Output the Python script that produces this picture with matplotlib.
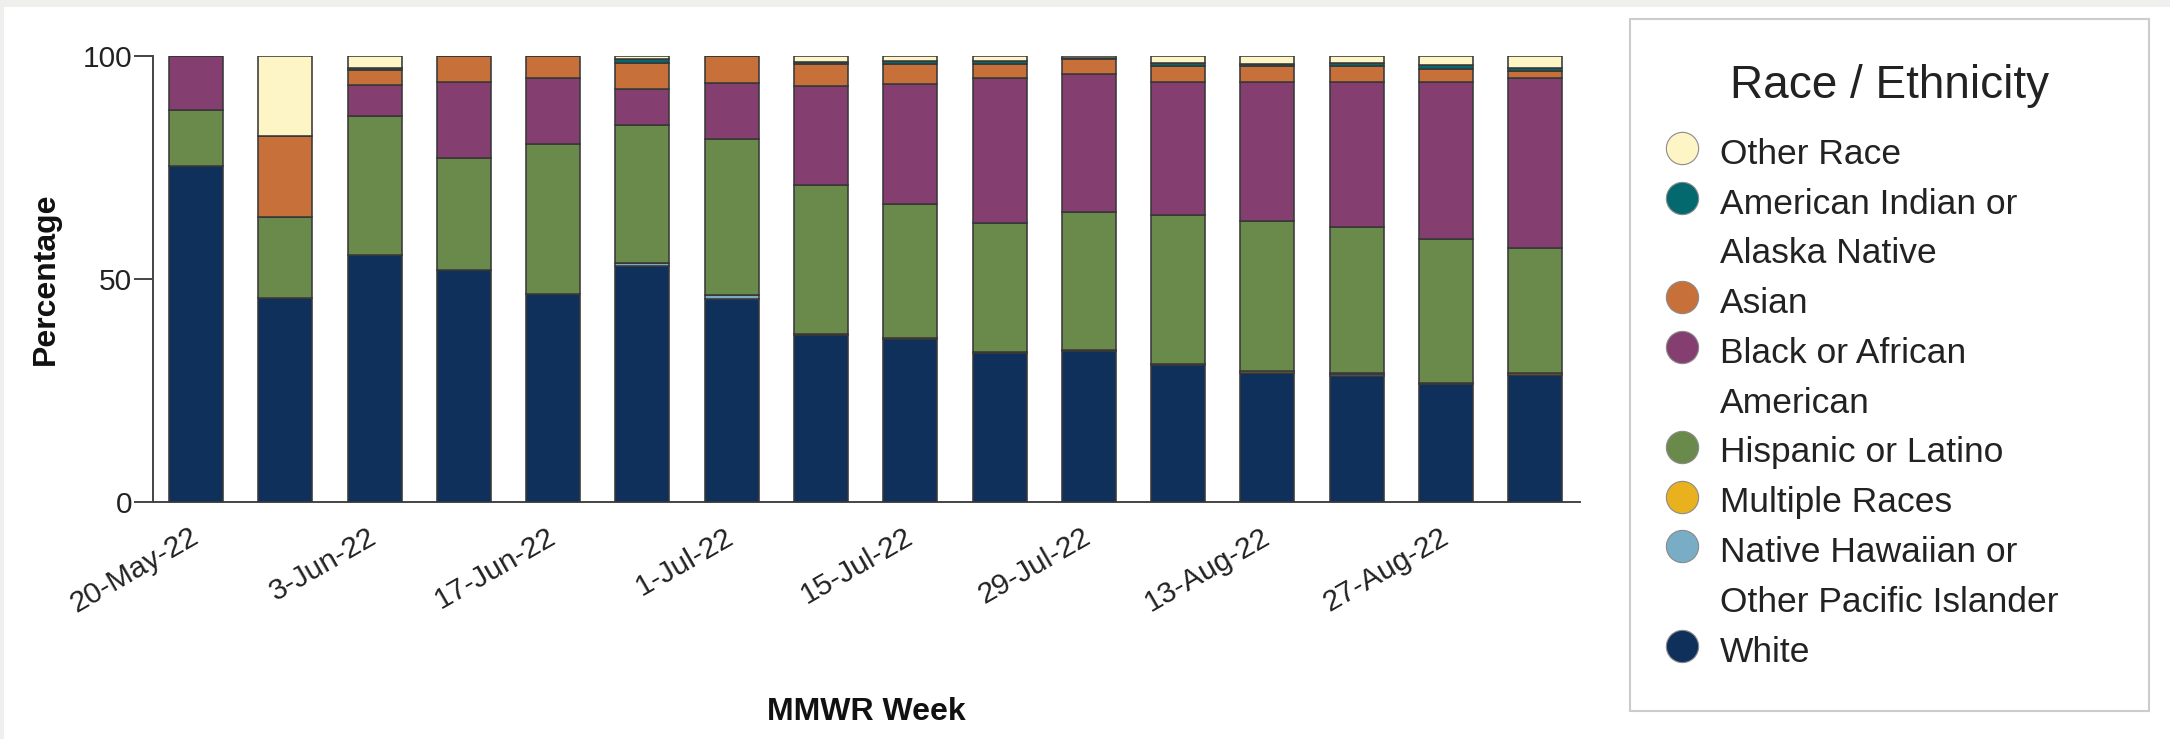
import matplotlib
matplotlib.use("Agg")
import matplotlib.pyplot as plt
from matplotlib.patches import Rectangle
import matplotlib.transforms as mtrans
import numpy as np

plt.rcParams['font.family'] = ['Liberation Sans', 'DejaVu Sans']

# ---- data ----
weeks = ['20-May-22', '27-May-22', '3-Jun-22', '10-Jun-22', '17-Jun-22', '24-Jun-22',
         '1-Jul-22', '8-Jul-22', '15-Jul-22', '22-Jul-22', '29-Jul-22', '5-Aug-22',
         '13-Aug-22', '20-Aug-22', '27-Aug-22', '3-Sep-22']
tick_labels = ['20-May-22', '3-Jun-22', '17-Jun-22', '1-Jul-22', '15-Jul-22',
               '29-Jul-22', '13-Aug-22', '27-Aug-22']

white    = [75.2, 45.6, 55.3, 52.0, 46.5, 52.9, 45.5, 37.4, 36.4, 33.3, 33.7, 30.6, 28.9, 28.1, 26.4, 28.4]
nhopi    = [0, 0, 0, 0, 0, 0.6, 0.8, 0, 0, 0, 0, 0, 0, 0.5, 0, 0]
multiple = [0, 0, 0, 0, 0, 0, 0, 0.3, 0.3, 0.2, 0.3, 0.3, 0.3, 0.3, 0.3, 0.5]
hispanic = [12.6, 18.2, 31.1, 25.1, 33.8, 30.9, 35.1, 33.35, 30.1, 28.9, 31.0, 33.4, 33.7, 32.8, 32.1, 27.9]
black    = [12.2, 0, 7.1, 17.1, 14.7, 8.2, 12.4, 22.25, 26.9, 32.5, 30.9, 29.9, 31.3, 32.5, 35.2, 38.3]
asian    = [0, 18.2, 3.35, 5.8, 5.0, 5.8, 6.2, 4.8, 4.5, 3.2, 3.3, 3.5, 3.4, 3.4, 3.1, 1.5]
aian     = [0, 0, 0.35, 0, 0, 0.8, 0, 0.5, 0.5, 0.6, 0.3, 0.6, 0.6, 0.7, 0.8, 0.6]
other    = [0, 18.0, 2.8, 0, 0, 0.7, 0, 1.4, 1.3, 1.3, 0.5, 1.7, 1.8, 1.7, 2.1, 2.8]

# stacking order bottom -> top
series = [
    ('White', white, '#10305c'),
    ('Native Hawaiian or\nOther Pacific Islander', nhopi, '#79adc6'),
    ('Multiple Races', multiple, '#e9b11e'),
    ('Hispanic or Latino', hispanic, '#6a8a4b'),
    ('Black or African\nAmerican', black, '#843f70'),
    ('Asian', asian, '#c8703a'),
    ('American Indian or\nAlaska Native', aian, '#03696e'),
    ('Other Race', other, '#fdf5c6'),
]

W, H, DPI = 2170, 739, 100
fig = plt.figure(figsize=(W / DPI, H / DPI), dpi=DPI, facecolor='white')

# background / frame layer in pixel coordinates
bg = fig.add_axes([0, 0, 1, 1], zorder=0)
bg.set_xlim(0, W)
bg.set_ylim(H, 0)
bg.axis('off')
bg.add_patch(Rectangle((0, 0), W, 7, facecolor='#efefed', edgecolor='none'))
bg.add_patch(Rectangle((0, 0), 4, H, facecolor='#efefed', edgecolor='none'))

# ---- main axes ----
ax_l, ax_r = 152.5, 1580
ax_t, ax_b = 55.7, 501.7
ax = fig.add_axes([ax_l / W, 1 - ax_b / H, (ax_r - ax_l) / W, (ax_b - ax_t) / H], zorder=2)
ax.patch.set_alpha(0)

x = np.arange(len(weeks))
bottom = np.zeros(len(weeks))
for name, vals, col in series:
    v = np.array(vals, dtype=float)
    ax.bar(x, v, bottom=bottom, width=0.605, color=col, edgecolor='#383838',
           linewidth=1.15, zorder=3)
    bottom += v

ax.set_xlim(-0.487, 15.5)
ax.set_ylim(0, 100)
for s in ['top', 'right']:
    ax.spines[s].set_visible(False)
for s in ['left', 'bottom']:
    ax.spines[s].set_color('#444444')
    ax.spines[s].set_linewidth(1.4)

ax.set_yticks([0, 50, 100])
ax.set_yticklabels(['0', '50', '100'])
ax.tick_params(axis='y', length=13.5, width=1.4, color='#444444', pad=1,
               labelsize=21.5, labelcolor='#222222')

ax.set_xticks(x[::2])
ax.set_xticklabels(tick_labels)
ax.tick_params(axis='x', length=0, pad=15, labelsize=21.5, labelcolor='#222222')
offset = mtrans.ScaledTranslation(7 / DPI, 0, fig.dpi_scale_trans)
for lab in ax.get_xticklabels():
    lab.set_rotation(30)
    lab.set_ha('right')
    lab.set_transform(lab.get_transform() + offset)

fig.text(46 / W, 1 - 279 / H, 'Percentage', rotation=90, ha='center', va='center',
         fontsize=23, fontweight='bold', color='#111111')
fig.text(866 / W, 1 - 712 / H, 'MMWR Week', ha='center', va='center',
         fontsize=23, fontweight='bold', color='#111111')

# ---- legend (drawn in pixel coordinates) ----
bg.add_patch(Rectangle((1630, 19), 519, 692, facecolor='white', edgecolor='#cccccc',
                       linewidth=1.5))
bg.text(1890, 86, 'Race / Ethnicity', ha='center', va='center', fontsize=33,
        color='#222222')
line0, step = 151, 49.8
line = 0
for name, vals, col in reversed(series):
    parts = name.split('\n')
    yc = line0 + step * line
    bg.scatter([1682], [yc - 3], s=540, color=col, edgecolor='#8a8a8a',
               linewidth=0.8, zorder=3)
    for j, p in enumerate(parts):
        bg.text(1720, line0 + step * (line + j) + 12.7, p, ha='left', va='baseline',
                fontsize=25.5, color='#222222')
    line += len(parts)

fig.savefig('out.png', dpi=DPI, facecolor='white')
